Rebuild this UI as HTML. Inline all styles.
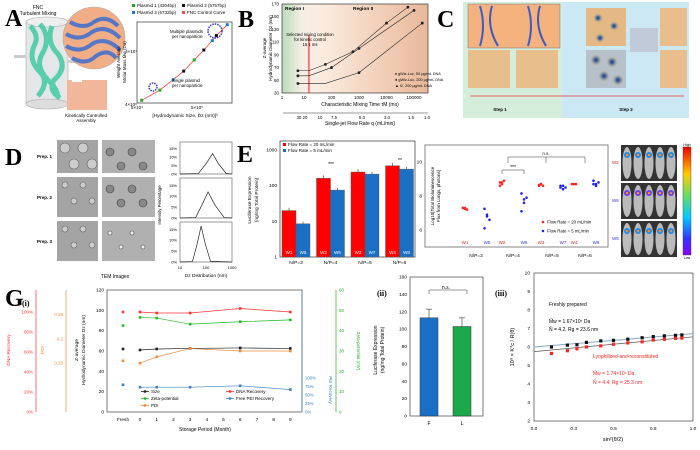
<!DOCTYPE html>
<html><head><meta charset="utf-8"><style>
html,body{margin:0;padding:0;background:#fff}
svg{display:block;font-family:"Liberation Sans",sans-serif}
.L{font-family:"Liberation Serif",serif;font-weight:bold;font-size:24px}
.t{font-size:5.5px}
</style></head><body>
<svg id="s" width="700" height="450" viewBox="0 0 700 450">
<defs>
<linearGradient id="gB" x1="0" x2="1"><stop offset="0" stop-color="#b9dcb9"/><stop offset="0.14" stop-color="#f6efe6"/><stop offset="0.3" stop-color="#fbeadd"/><stop offset="1" stop-color="#e9b89a"/></linearGradient>
<radialGradient id="dot"><stop offset="0" stop-color="#2a2f6a"/><stop offset="0.4" stop-color="#5c7fa6"/><stop offset="1" stop-color="#d9b07e" stop-opacity="0"/></radialGradient>
<linearGradient id="cb" x1="0" y1="0" x2="0" y2="1"><stop offset="0" stop-color="#e00"/><stop offset="0.25" stop-color="#fc0"/><stop offset="0.45" stop-color="#6d6"/><stop offset="0.65" stop-color="#0cf"/><stop offset="0.85" stop-color="#33f"/><stop offset="1" stop-color="#80f"/></linearGradient>
</defs>

<!-- Panel A -->
<text class="L" x="5" y="26">A</text>
<g>
<rect x="26" y="22" width="42" height="82" fill="#e4e6e8" stroke="#aaa" stroke-width="0.6"/>
<ellipse cx="47" cy="22" rx="21" ry="5" fill="#eee" stroke="#aaa" stroke-width="0.6"/>
<ellipse cx="47" cy="104" rx="21" ry="5" fill="#ddd" stroke="#aaa" stroke-width="0.6"/>
<path d="M30 26 q10 10 4 20 q-6 14 6 26 q10 10 -2 24 M40 24 q12 14 2 30 q-8 14 10 30 q8 10 4 14 M52 26 q-6 16 6 28 q10 14 -4 26 q-6 10 6 18" stroke="#3fc9a0" stroke-width="5" fill="none" opacity="0.85"/>
<rect x="14" y="55" width="12" height="3" fill="#ccc"/><rect x="68" y="60" width="10" height="3" fill="#ccc"/>
<text x="38" y="9" font-size="5" text-anchor="middle">FNC</text><text x="38" y="15" font-size="5" text-anchor="middle">Turbulent Mixing</text>
<circle cx="94" cy="38" r="31" fill="#f1ad86" stroke="#aaa" stroke-width="0.6"/>
<path d="M70 22 q14 8 24 0 q12 -8 24 4 M66 34 q14 8 26 -2 q14 -8 28 6 M66 46 q14 8 26 -2 q14 -8 28 6 M72 58 q14 8 24 -2 q12 -8 20 2" stroke="#5577c6" stroke-width="4" fill="none"/>
<rect x="67" y="80" width="40" height="30" fill="#f2b69a"/>
<rect x="72" y="78" width="10" height="4" fill="#fff"/>
<text x="86" y="117" font-size="4.5" text-anchor="middle">Kinetically Controlled</text><text x="86" y="122" font-size="4.5" text-anchor="middle">Assembly</text>
</g>
<g id="aplot"></g>

<!-- Panel B -->
<text class="L" x="238" y="27">B</text>
<g id="bplot"></g>

<!-- Panel C -->
<text class="L" x="437" y="27">C</text>
<g>
<rect x="463" y="2" width="99" height="116" fill="#d5eedc"/>
<rect x="562" y="2" width="127" height="116" fill="#cce8f4"/>
<rect x="468" y="4" width="92" height="44" fill="#f3b27e" stroke="#777" stroke-width="0.5"/>
<path d="M480 6 q6 20 0 40 M492 6 q-6 20 6 40 M528 6 q6 20 0 40 M540 6 q-6 20 6 40" stroke="#3d5bc0" stroke-width="2" fill="none"/>
<rect x="468" y="50" width="42" height="38" fill="#e8bf8c"/><rect x="516" y="50" width="42" height="38" fill="#e8bf8c"/>
<rect x="586" y="8" width="40" height="38" fill="#e4b985"/><rect x="586" y="50" width="40" height="38" fill="#b7c1c9"/>
<rect x="630" y="28" width="28" height="24" fill="#c0cad8"/>
<rect x="660" y="8" width="27" height="38" fill="#e8bf8c"/><rect x="660" y="50" width="27" height="38" fill="#e8bf8c"/>
<circle cx="598" cy="18" r="5" fill="url(#dot)"/><circle cx="614" cy="26" r="5" fill="url(#dot)"/><circle cx="600" cy="38" r="5" fill="url(#dot)"/>
<circle cx="596" cy="60" r="6" fill="url(#dot)"/><circle cx="612" cy="62" r="6" fill="url(#dot)"/><circle cx="604" cy="76" r="6" fill="url(#dot)"/><circle cx="618" cy="80" r="6" fill="url(#dot)"/>
<line x1="470" y1="96" x2="684" y2="96" stroke="#e33" stroke-width="0.8"/>
<text x="500" y="111" font-size="4.5" text-anchor="middle" font-weight="bold">Step 1</text>
<text x="626" y="111" font-size="4.5" text-anchor="middle" font-weight="bold">Step 2</text>
</g>

<!-- Panel D -->
<text class="L" x="5" y="165">D</text>
<g id="dtem"></g>
<text x="115" y="278" font-size="5" text-anchor="middle">TEM Images</text>
<g id="ddist"></g>

<!-- Panel E -->
<text class="L" x="237" y="162">E</text>
<g id="eplot"></g>

<!-- Panel F -->
<text class="L" x="436" y="162">F</text>
<g id="fplot"></g>

<!-- Panel G -->
<text class="L" x="5" y="306">G</text>
<text x="22" y="306" font-size="8" font-weight="bold" font-family="Liberation Serif,serif">(i)</text>
<g id="g1"></g>
<text x="377" y="296" font-size="8" font-weight="bold" font-family="Liberation Serif,serif">(ii)</text>
<g id="g2"></g>
<text x="495" y="296" font-size="8" font-weight="bold" font-family="Liberation Serif,serif">(iii)</text>
<g id="g3"></g>
</svg>
<script>
const NS="http://www.w3.org/2000/svg";
function E(p,tag,at,txt){const e=document.createElementNS(NS,tag);for(const k in at)e.setAttribute(k,at[k]);if(txt!==undefined)e.textContent=txt;p.appendChild(e);return e;}
const lg=Math.log10;

// ---------- A data ----------
const aSize=[6e4,1.2e5,2e5,3e5,4.5e5,6.5e5,9e5,1.05e6,1.6e6];
const aMw=[4.5e6,7e6,1.1e7,1.6e7,2.6e7,4e7,6e7,7.5e7,1.2e8];
const aSeries=["p1","p1","p3","p2","p1","p2","p3","p2","p3"];
(function(){
 const g=document.getElementById('aplot');
 const X=v=>197+60*(lg(v)-lg(5e5)), Y=v=>103-53*(lg(v)-lg(4e6));
 E(g,'rect',{x:137,y:22,width:95,height:81,fill:'#fff',stroke:'#333','stroke-width':0.7});
 const curve=E(g,'polyline',{fill:'none',stroke:'#f44','stroke-width':0.8,points:aSize.map((s,i)=>X(s)+','+Y(aMw[i])).join(' ')});
 
 
 const col={p1:'#2a2',p2:'#111',p3:'#27c'};
 aSize.forEach((s,i)=>{const m=E(g,'rect',{x:X(s)-1.5,y:Y(aMw[i])-1.5,width:3,height:3,fill:col[aSeries[i]]});
  
  });
 E(g,'circle',{cx:215,cy:31,r:7,fill:'none',stroke:'#33b','stroke-width':1.5,'stroke-dasharray':'1.5 1'});
 E(g,'circle',{cx:153,cy:87,r:4,fill:'none',stroke:'#33b','stroke-width':1.5,'stroke-dasharray':'1.5 1'});
 E(g,'text',{x:170,y:33,'font-size':4.3},'Multiple plasmids');E(g,'text',{x:172,y:38,'font-size':4.3},'per nanoparticle');
 E(g,'text',{x:172,y:82,'font-size':4.3},'Single plasmid');E(g,'text',{x:172,y:87,'font-size':4.3},'per nanoparticle');
 E(g,'text',{x:137,y:106,'font-size':4.5,'text-anchor':'end'},'4×10⁶');E(g,'text',{x:137,y:53,'font-size':4.5,'text-anchor':'end'},'4×10⁷');
 E(g,'text',{x:137,y:109,'font-size':4.5,'text-anchor':'middle'},'5×10⁴');E(g,'text',{x:197,y:109,'font-size':4.5,'text-anchor':'middle'},'5×10⁵');
 E(g,'text',{x:185,y:117,'font-size':4.8,'text-anchor':'middle'},'[Hydrodynamic Size, D̄z (nm)]³');
 E(g,'text',{x:120,y:62,'font-size':4.5,'text-anchor':'middle',transform:'rotate(-90 120 62)'},'Weight Average');
 E(g,'text',{x:126,y:62,'font-size':4.5,'text-anchor':'middle',transform:'rotate(-90 126 62)'},'Molar Mass M̄w (Da)');
 const leg=[['#2a2','Plasmid 1 (4304bp)',132,7],['#111','Plasmid 2 (5757bp)',182,7],['#27c','Plasmid 3 (6732bp)',132,14],['#f44','FNC Control Curve',182,14]];
 leg.forEach(l=>{E(g,'rect',{x:l[2],y:l[3]-3,width:3,height:3,fill:l[0]});E(g,'text',{x:l[2]+5,y:l[3],'font-size':4.5},l[1]);});
})();

// ---------- B data ----------
const bTime=[[6,15,60,600,10000,60000],[6,15,100,1000,100000],[6,60,1000,200000]];
const bSize=[[65,65,75,95,140,165],[57,57,70,100,160],[45,45,62,140]];
(function(){
 const g=document.getElementById('bplot');
 const X=v=>304+27.5*(lg(v)-1), Y=v=>93-(v-30)*89/140;
 E(g,'rect',{x:282,y:4,width:146,height:89,fill:'url(#gB)',stroke:'#333','stroke-width':0.7});
 for(let v=30;v<=170;v+=20){E(g,'text',{x:279,y:Y(v)+1.5,'font-size':4.5,'text-anchor':'end'},v);}
 [10,100,1000,10000,100000].forEach(v=>E(g,'text',{x:X(v),y:99,'font-size':4.5,'text-anchor':'middle'},v));
 E(g,'text',{x:282,y:99,'font-size':4.5,'text-anchor':'middle'},'1');
 E(g,'text',{x:360,y:106,'font-size':5,'text-anchor':'middle'},'Characteristic Mixing Time τM  (ms)');
 E(g,'line',{x1:283,y1:113,x2:428,y2:113,stroke:'#333','stroke-width':0.6});
 E(g,'text',{x:360,y:125,'font-size':5,'text-anchor':'middle'},'Single-jet Flow Rate q  (mL/min)');
 ['30 20','10','7.5','5.0','3.0','1.5','1.0'].forEach((t,i)=>E(g,'text',{x:[302,320,334,362,387,411,427][i],y:119,'font-size':4.3,'text-anchor':'middle'},t));
 E(g,'line',{x1:X(15.1),y1:35,x2:X(15.1),y2:93,stroke:'#f33','stroke-width':1.2});
 E(g,'text',{x:285,y:10,'font-size':4.8,'font-weight':'bold'},'Region I');E(g,'text',{x:353,y:10,'font-size':4.8,'font-weight':'bold'},'Region II');
 E(g,'text',{x:310,y:36,'font-size':4.2,'text-anchor':'middle'},'Selected mixing condition');
 E(g,'text',{x:310,y:41,'font-size':4.2,'text-anchor':'middle'},'for kinetic control');E(g,'text',{x:310,y:46,'font-size':4.2,'text-anchor':'middle'},'15.1 ms');
 const sh=['circle','tri','dia'];
 bTime.forEach((arr,s)=>{const l=E(g,'polyline',{fill:'none',stroke:'#222','stroke-width':0.6,points:arr.map((t,i)=>X(t)+','+Y(bSize[s][i])).join(' ')});
  
  
  arr.forEach((t,i)=>{if(i==1)return;const m=E(g,'circle',{cx:X(t),cy:Y(bSize[s][i]),r:1.4,fill:'#222'});
   
   });});
 E(g,'text',{x:395,y:75,'font-size':3.8},'♦ gWiz-Luc, 50 μg/mL DNA');E(g,'text',{x:395,y:81,'font-size':3.8},'● gWiz-Luc, 200 μg/mL DNA');E(g,'text',{x:395,y:87,'font-size':3.8},'▲ I2, 200 μg/mL DNA');
 E(g,'text',{x:266,y:48,'font-size':4.5,'text-anchor':'middle',transform:'rotate(-90 266 48)'},'Z-average');
 E(g,'text',{x:272,y:48,'font-size':4.5,'text-anchor':'middle',transform:'rotate(-90 272 48)'},'Hydrodynamic Diameter D̄z (nm)');
})();

// ---------- D ----------
const dPeak=[[10,0],[50,0.2],[100,6],[180,12],[300,6],[600,0.3],[1000,0]];
const dPeak2=[[10,0],[40,0.2],[70,6],[120,12],[220,6],[500,0.2],[1000,0]];
const dPeak3=[[10,0],[30,0.2],[45,8],[65,16.5],[95,8],[150,0.3],[1000,0]];
(function(){
 const g=document.getElementById('dtem');
 const rows=[140,177,221],h=[33,40,40];
 E(g,'text',{x:37,y:158,'font-size':4.5,'font-weight':'bold'},'Prep. 1');E(g,'text',{x:37,y:199,'font-size':4.5,'font-weight':'bold'},'Prep. 2');E(g,'text',{x:37,y:243,'font-size':4.5,'font-weight':'bold'},'Prep. 3');
 rows.forEach((y,i)=>{E(g,'rect',{x:57,y:y,width:41,height:h[i],fill:'#a4a4a4'});E(g,'rect',{x:102,y:y,width:53,height:h[i],fill:'#b0b0b0'});
  for(let k=0;k<4;k++){E(g,'circle',{cx:65+k*9,cy:y+8+(k%2)*16,r:i==0?5:3,fill:'#ccc',stroke:'#666','stroke-width':0.6});
   E(g,'circle',{cx:110+k*11,cy:y+12+(k%2)*14,r:i==2?2:4,fill:i==2?'#eee':'#888',stroke:'#444','stroke-width':0.6});}});
 const d=document.getElementById('ddist');
 const sets=[dPeak,dPeak2,dPeak3],tops=[142,178,222],hh=[32,40,40];
 sets.forEach((s,i)=>{const t=tops[i],b=t+hh[i];const X=v=>180+52*lg(v/10)/2,Y=v=>b-v*(hh[i]-3)/17;
  E(d,'rect',{x:180,y:t,width:52,height:hh[i],fill:'#fff',stroke:'#555','stroke-width':0.6});
  [0,5,10,15].forEach(v=>{if(Y(v)>=t)E(d,'text',{x:177,y:Y(v)+1.5,'font-size':4,'text-anchor':'end'},v+'%');});
  const c=E(d,'path',{d:'M'+s.map(p=>X(p[0])+' '+Y(p[1])).join(' L'),fill:'none',stroke:'#222','stroke-width':0.7});
  
  });
 [['10',180],['100',206],['1000',232]].forEach(a=>E(d,'text',{x:a[1],y:269,'font-size':4,'text-anchor':'middle'},a[0]));
 E(d,'text',{x:206,y:277,'font-size':4.8,'text-anchor':'middle'},'Dz Distribution (nm)');
 E(d,'text',{x:161,y:205,'font-size':4.3,'text-anchor':'middle',transform:'rotate(-90 161 205)'},'Intensity Percentage');
})();

// ---------- E ----------
const eCats=['N/P=3','N/P=4','N/P=5','N/P=6'];
const eFast=[20,160,240,360];
const eSlow=[8.5,75,210,290];
const eFastLbl=['W1','W2','W3','W4'], eSlowLbl=['W5','W6','W7','W8'];
(function(){
 const g=document.getElementById('eplot');
 const Y=v=>257-35.7*lg(v);
 E(g,'rect',{x:280,y:141,width:135,height:116,fill:'#fff',stroke:'#333','stroke-width':0.7});
 [1,10,100,1000].forEach(v=>E(g,'text',{x:277,y:Y(v)+1.5,'font-size':4.8,'text-anchor':'end'},v));
 eCats.forEach((c,i)=>{const cx=296+i*34.5;
  const b1=E(g,'rect',{x:cx-14,y:Y(eFast[i]),width:14,height:257-Y(eFast[i]),fill:'#f00',stroke:'#555','stroke-width':0.4});
  
  
  const b2=E(g,'rect',{x:cx,y:Y(eSlow[i]),width:14,height:257-Y(eSlow[i]),fill:'#1a6fc4',stroke:'#555','stroke-width':0.4});
  
  
  E(g,'line',{x1:cx-7,y1:Y(eFast[i]),x2:cx-7,y2:Y(eFast[i]*1.2),stroke:'#333','stroke-width':0.6});
  E(g,'line',{x1:cx+7,y1:Y(eSlow[i]),x2:cx+7,y2:Y(eSlow[i]*1.15),stroke:'#333','stroke-width':0.6});
  E(g,'text',{x:cx-7,y:254,'font-size':4.5,fill:'#fff','text-anchor':'middle'},eFastLbl[i]);
  E(g,'text',{x:cx+7,y:254,'font-size':4.5,fill:'#fff','text-anchor':'middle'},eSlowLbl[i]);
  E(g,'text',{x:cx,y:264,'font-size':4.8,'text-anchor':'middle'},c);});
 E(g,'rect',{x:283,y:143,width:3,height:3,fill:'#f00'});E(g,'text',{x:288,y:146,'font-size':4.5},'Flow Rate = 20 mL/min');
 E(g,'rect',{x:283,y:149,width:3,height:3,fill:'#1a6fc4'});E(g,'text',{x:288,y:152,'font-size':4.5},'Flow Rate = 5 mL/min');
 E(g,'text',{x:331,y:166,'font-size':5,'text-anchor':'middle'},'***');E(g,'text',{x:400,y:162,'font-size':5,'text-anchor':'middle'},'**');
 E(g,'text',{x:251,y:200,'font-size':4.8,'text-anchor':'middle',transform:'rotate(-90 251 200)'},'Luciferase Expression');
 E(g,'text',{x:258,y:200,'font-size':4.8,'text-anchor':'middle',transform:'rotate(-90 258 200)'},'(ng/mg Total Protein)');
})();

// ---------- F ----------
const fCats=['N/P=3','N/P=4','N/P=5','N/P=6'];
const fFast=[[7.3,7.25,7.2,7.3,7.3],[8.8,8.7,8.9,8.6,8.8],[8.6,8.7,8.6,8.65,8.7],[8.7,8.7,8.7]];
const fSlow=[[7.25,6.9,6.6,6.1,6.8],[8.15,7.8,7.9,7.1,7.6],[8.6,8.4,8.5,8.5,8.6],[8.9,8.6,8.8,8.7,8.7]];
(function(){
 const g=document.getElementById('fplot');
 const Y=v=>247-(v-5)*17, cx=[476,513,552,585];
 E(g,'rect',{x:425,y:145,width:183,height:102,fill:'#fff',stroke:'#555','stroke-width':0.7});
 [6,8,10].forEach(v=>E(g,'text',{x:422,y:Y(v)+1.5,'font-size':4.8,'text-anchor':'end'},v));
 fCats.forEach((c,i)=>{
  fFast[i].forEach((v,k)=>{const m=E(g,'circle',{cx:cx[i]-11+(k%3-1)*2,cy:Y(v),r:1.3,fill:'#f22'});});
  fSlow[i].forEach((v,k)=>{const m=E(g,'circle',{cx:cx[i]+11+(k%3-1)*2.5,cy:Y(v),r:1.3,fill:'#22e'});});
  E(g,'text',{x:cx[i]-11,y:244,'font-size':4.5,fill:'#e22','text-anchor':'middle'},'W'+(i+1));
  E(g,'text',{x:cx[i]+11,y:244,'font-size':4.5,fill:'#33c','text-anchor':'middle'},'W'+(i+5));
  E(g,'text',{x:cx[i],y:257,'font-size':4.8,'text-anchor':'middle'},c);});
 E(g,'path',{d:'M508 163 V157 H585 V163 M546 157 V163',fill:'none',stroke:'#333','stroke-width':0.5});
 E(g,'text',{x:546,y:155,'font-size':4.5,'text-anchor':'middle'},'n.s.');
 E(g,'path',{d:'M502 174 V170 H524 V174',fill:'none',stroke:'#333','stroke-width':0.5});E(g,'text',{x:513,y:169,'font-size':5,'text-anchor':'middle'},'***');
 E(g,'circle',{cx:543,cy:222,r:1.3,fill:'#f22'});E(g,'text',{x:547,y:223.5,'font-size':4.3},'Flow Rate = 20 mL/min');
 E(g,'circle',{cx:543,cy:231,r:1.3,fill:'#22e'});E(g,'text',{x:547,y:232.5,'font-size':4.3},'Flow Rate = 5 mL/min');
 E(g,'text',{x:434,y:196,'font-size':4.5,'text-anchor':'middle',transform:'rotate(-90 434 196)'},'Log10[Total Bioluminescence');
 E(g,'text',{x:440,y:196,'font-size':4.5,'text-anchor':'middle',transform:'rotate(-90 440 196)'},'Flux from Lungs, photons]');
 // mouse images
 const m=E(g,'g',{});
 [145,183,221].forEach((y,r)=>{E(m,'rect',{x:621,y:y,width:56,height:36,fill:'#333'});
  for(let k=0;k<5;k++){E(m,'ellipse',{cx:627+k*11,cy:y+18,rx:4.5,ry:16,fill:'#bbb'});E(m,'circle',{cx:627+k*11,cy:y+10,r:3,fill:r==1?'#6a3cf0':'#1a8cf0'});E(m,'circle',{cx:627+k*11,cy:y+10,r:1.3,fill:'#f82'});}
  E(m,'text',{x:612,y:y+19,'font-size':4.5,fill:['#e22','#33c','#33c'][r]},['W2','W6','W8'][r]);});
 E(m,'rect',{x:683,y:147,width:8,height:108,fill:'url(#cb)',stroke:'#333','stroke-width':0.4});
 E(m,'text',{x:687,y:146,'font-size':3.5,'text-anchor':'middle'},'High');E(m,'text',{x:687,y:259,'font-size':3.5,'text-anchor':'middle'},'Low');
})();

// ---------- G(i) ----------
const gMonths=[0,1,3,6,9];
const gSize=[61,62,62.5,63,62.5];
const gDNA=[100,99,99,103.5,100];
const gZeta=[46.5,46.2,43.2,44.4,45.3];
const gPDI=[0.15,0.163,0.18,0.175,0.175];
const gPEI=[73,73,73,77,66];
const gFresh={size:62,dna:100,zeta:42.5,pdi:0.155,pei:80};
(function(){
 const g=document.getElementById('g1');
 const X=m=>140+16.7*m, XF=123, Y=v=>412-v*122/120;
 const Yd=v=>412-v*1.0; // DNA 0..120% map
 const Yz=v=>412-v*122/60; // zeta 0..60
 const Yp=v=>412-(v-0.05)*122/0.25; // PDI
 const Yi=v=>412-v*34/100; // PEI 0..100% over lower part
 E(g,'rect',{x:107,y:290,width:195,height:122,fill:'#fff',stroke:'#444','stroke-width':0.7});
 for(let v=0;v<=120;v+=20)E(g,'text',{x:104,y:Y(v)+1.5,'font-size':4.8,'text-anchor':'end'},v);
 gMonths.concat([2,4,5,7,8]).forEach(m=>E(g,'text',{x:X(m),y:421,'font-size':4.8,'text-anchor':'middle'},m));
 E(g,'text',{x:XF,y:421,'font-size':4.8,'text-anchor':'middle'},'Fresh');
 E(g,'text',{x:205,y:431,'font-size':5,'text-anchor':'middle'},'Storage Period (Month)');
 E(g,'line',{x1:36,y1:290,x2:36,y2:412,stroke:'#f33','stroke-width':0.7});
 [0,20,40,60,80,100].forEach(v=>E(g,'text',{x:33,y:412-v*1.0+1.5,'font-size':4.5,fill:'#f33','text-anchor':'end'},v+'%'));
 E(g,'text',{x:10,y:350,'font-size':4.8,fill:'#f33','text-anchor':'middle',transform:'rotate(-90 10 350)'},'DNA Recovery');
 E(g,'line',{x1:66,y1:290,x2:66,y2:412,stroke:'#f28a3c','stroke-width':0.7});
 [['0.15',0.15],['0.2',0.2],['0.25',0.25]].forEach(a=>E(g,'text',{x:63,y:Yp(a[1])+1.5,'font-size':4.5,fill:'#f28a3c','text-anchor':'end'},a[0]));
 E(g,'text',{x:44,y:350,'font-size':4.8,fill:'#f28a3c','text-anchor':'middle',transform:'rotate(-90 44 350)'},'PDI');
 E(g,'text',{x:78,y:350,'font-size':4.8,'text-anchor':'middle',transform:'rotate(-90 78 350)'},'Z-average');
 E(g,'text',{x:85,y:350,'font-size':4.8,'text-anchor':'middle',transform:'rotate(-90 85 350)'},'Hydrodynamic Diameter Dz (nm)');
 E(g,'line',{x1:302,y1:290,x2:302,y2:412,stroke:'#3a84c9','stroke-width':0.7});
 [0,25,50,75,100].forEach(v=>E(g,'text',{x:305,y:Yi(v)+1.5,'font-size':4.3,fill:'#3a84c9'},v+'%'));
 E(g,'text',{x:329,y:390,'font-size':4.5,fill:'#3a84c9','text-anchor':'middle',transform:'rotate(90 329 390)'},'PEI Recovery');
 E(g,'line',{x1:336,y1:290,x2:336,y2:412,stroke:'#2a2','stroke-width':0.7});
 for(let v=0;v<=60;v+=10)E(g,'text',{x:339,y:Yz(v)+1.5,'font-size':4.5,fill:'#2a2'},v);
 E(g,'text',{x:357,y:351,'font-size':4.5,fill:'#2a2','text-anchor':'middle',transform:'rotate(90 357 351)'},'Zeta-potential (mV)');
 const series=[[gSize,Y,'#222',gFresh.size,'size'],[gDNA,Yd,'#f33',gFresh.dna,'dna'],[gZeta,Yz,'#2b2',gFresh.zeta,'zeta'],[gPDI,Yp,'#f28a3c',gFresh.pdi,'pdi'],[gPEI,Yi,'#3a84c9',gFresh.pei,'pei']];
 series.forEach(s=>{const l=E(g,'polyline',{fill:'none',stroke:s[2],'stroke-width':0.7,points:gMonths.map((m,i)=>X(m)+','+s[1](s[0][i])).join(' ')});
  
  
  gMonths.forEach((m,i)=>E(g,'rect',{x:X(m)-1.3,y:s[1](s[0][i])-1.3,width:2.6,height:2.6,fill:s[2]}));
  E(g,'rect',{x:XF-1.3,y:s[1](s[3])-1.3,width:2.6,height:2.6,fill:s[2]});});
 const leg=[['#222','Size',145,393],['#2b2','Zeta-potential',145,400],['#f28a3c','PDI',145,407],['#f33','DNA Recovery',230,393],['#3a84c9','Free PEI Recovery',230,400]];
 leg.forEach(l=>{E(g,'line',{x1:l[2]-4,y1:l[3]-1.5,x2:l[2]+4,y2:l[3]-1.5,stroke:l[0],'stroke-width':0.8});E(g,'rect',{x:l[2]-1.2,y:l[3]-2.7,width:2.4,height:2.4,fill:l[0]});E(g,'text',{x:l[2]+6,y:l[3],'font-size':4.5},l[1]);});
})();

// ---------- G(ii) ----------
const g2Cats=['F','L'];
const g2Vals=[113,103];
const g2Err=[10,10];
(function(){
 const g=document.getElementById('g2');
 const Y=v=>416-v*139/160, cx=[429,462], col=['#1a6fc4','#1aa84a'];
 E(g,'rect',{x:410,y:277,width:73,height:139,fill:'#fff',stroke:'#444','stroke-width':0.7});
 for(let v=0;v<=160;v+=20)E(g,'text',{x:407,y:Y(v)+1.5,'font-size':4.8,'text-anchor':'end'},v);
 g2Cats.forEach((c,i)=>{const b=E(g,'rect',{x:cx[i]-9,y:Y(g2Vals[i]),width:18,height:416-Y(g2Vals[i]),fill:col[i],stroke:'#333','stroke-width':0.5});
  
  
  E(g,'line',{x1:cx[i],y1:Y(g2Vals[i]),x2:cx[i],y2:Y(g2Vals[i]+g2Err[i]),stroke:'#333','stroke-width':0.6});
  E(g,'line',{x1:cx[i]-3,y1:Y(g2Vals[i]+g2Err[i]),x2:cx[i]+3,y2:Y(g2Vals[i]+g2Err[i]),stroke:'#333','stroke-width':0.6});
  E(g,'text',{x:cx[i],y:425,'font-size':5,'text-anchor':'middle'},c);});
 E(g,'path',{d:'M429 294 V290 H467 V294',fill:'none',stroke:'#333','stroke-width':0.5});
 E(g,'text',{x:446,y:289,'font-size':5,'text-anchor':'middle'},'n.s.');
 E(g,'text',{x:377,y:350,'font-size':5,'text-anchor':'middle',transform:'rotate(-90 377 350)'},'Luciferase Expression');
 E(g,'text',{x:384,y:350,'font-size':5,'text-anchor':'middle',transform:'rotate(-90 384 350)'},'(ng/mg Total Protein)');
})();

// ---------- G(iii) ----------
const zX=[0.11,0.21,0.27,0.33,0.42,0.5,0.59,0.68,0.75,0.82,0.89,0.93];
const zFresh=[6.0,6.1,6.12,6.25,6.33,6.36,6.42,6.5,6.56,6.6,6.63,6.65];
const zLyo=[5.65,5.8,5.9,6.0,6.06,6.15,6.22,6.28,6.38,6.42,6.47,6.48];
(function(){
 const g=document.getElementById('g3');
 const X=v=>534+159*v, Y=v=>421-(v-2)*148/8;
 E(g,'rect',{x:534,y:273,width:159,height:148,fill:'#fff',stroke:'#444','stroke-width':0.7});
 for(let v=2;v<=10;v++)E(g,'text',{x:530,y:Y(v)+1.5,'font-size':4.8,'text-anchor':'end'},v);
 [['0.0',0],['0.3',0.25],['0.5',0.5],['0.8',0.75],['1.0',1]].forEach(a=>E(g,'text',{x:X(a[1]),y:430,'font-size':4.8,'text-anchor':'middle'},a[0]));
 E(g,'text',{x:613,y:441,'font-size':5.5,'text-anchor':'middle'},'sin²(θ/2)');
 E(g,'text',{x:514,y:347,'font-size':5.5,'text-anchor':'middle',transform:'rotate(-90 514 347)'},'10⁸ × K*c / R(θ)');
 E(g,'line',{x1:X(0),y1:Y(6.0),x2:X(1),y2:Y(6.72),stroke:'#8aa7c8','stroke-width':1});
 E(g,'line',{x1:X(0),y1:Y(5.75),x2:X(1),y2:Y(6.55),stroke:'#555','stroke-width':0.7});
 zX.forEach((x,i)=>{const a=E(g,'rect',{x:X(x)-1.6,y:Y(zFresh[i])-1.6,width:3.2,height:3.2,fill:'#111'});
  
  
  const b=E(g,'rect',{x:X(x)-1.6,y:Y(zLyo[i])-1.6,width:3.2,height:3.2,fill:'#f22'});
  
  });
 E(g,'text',{x:549,y:306,'font-size':5},'Freshly prepared');
 E(g,'text',{x:549,y:323,'font-size':5},'M̄w = 1.67×10⁷ Da');E(g,'text',{x:549,y:331,'font-size':5},'N̄ = 4.2, Rg = 23.6 nm');
 E(g,'text',{x:593,y:358,'font-size':5,fill:'#f22'},'Lyophilized-and-reconstituted');
 E(g,'text',{x:593,y:375,'font-size':5,fill:'#f22'},'M̄w = 1.74×10⁷ Da');E(g,'text',{x:593,y:384,'font-size':5,fill:'#f22'},'N̄ = 4.4, Rg = 25.3 nm');
})();
</script>
</body></html>
